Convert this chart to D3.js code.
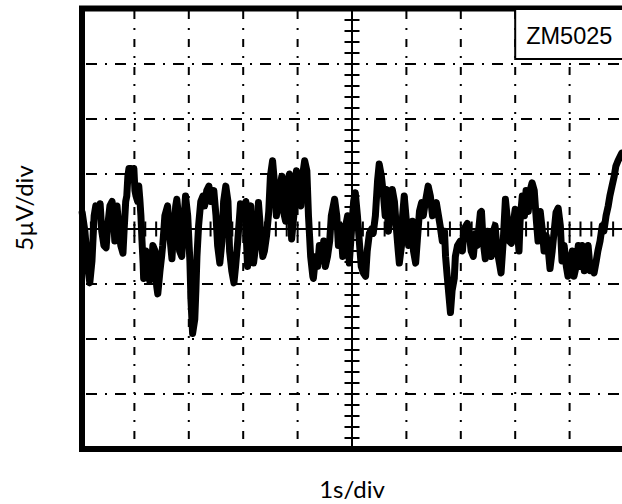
<!DOCTYPE html>
<html>
<head>
<meta charset="utf-8">
<style>
  body { margin: 0; background: #fff; }
  svg { display: block; }
</style>
</head>
<body>
<script src="https://cdn.jsdelivr.net/npm/d3@7"></script>
<script>

  const width = 622, height = 504
  const plot = {left: 80, right: 624, top: 9, bottom: 449}

  // scope graticule: 1 s/div horizontally, 5 uV/div vertically
  const xGrid = [0, 1, 2, 3, 4, 5, 6, 7, 8, 9, 10]
  const yGrid = [-20, -15, -10, -5, 0, 5, 10, 15, 20]

  const xLabel = '1s/div',
        yLabel = '5\u00b5V/div',
        tag = 'ZM5025'

  // noise trace, time (s) and amplitude (uV)
  const traceTime = [
    0.04, 0.09, 0.15, 0.18, 0.22, 0.26, 0.29, 0.33, 0.37, 0.40, 0.44, 0.48, 0.51, 0.55, 0.59, 0.62, 0.64, 0.68, 0.72, 0.75,
    0.79, 0.81, 0.84, 0.86, 0.88, 0.90, 0.94, 0.97, 0.99, 1.01, 1.03, 1.06, 1.08, 1.10, 1.12, 1.14, 1.16, 1.17, 1.21, 1.23,
    1.27, 1.28, 1.32, 1.34, 1.38, 1.39, 1.41, 1.43, 1.47, 1.50, 1.52, 1.54, 1.56, 1.61, 1.65, 1.69, 1.72, 1.76, 1.78, 1.82,
    1.83, 1.87, 1.91, 1.94, 1.98, 2.02, 2.04, 2.07, 2.11, 2.13, 2.15, 2.18, 2.22, 2.26, 2.29, 2.33, 2.37, 2.40,
    2.46, 2.50, 2.53, 2.57, 2.61, 2.64, 2.68, 2.72, 2.75, 2.79, 2.83, 2.86, 2.90, 2.94, 2.95, 2.99, 3.05, 3.06, 3.08, 3.10,
    3.12, 3.14, 3.17, 3.19, 3.23, 3.27, 3.28, 3.32, 3.36, 3.39, 3.43, 3.47, 3.50, 3.54, 3.58, 3.61, 3.65, 3.71, 3.74, 3.78,
    3.82, 3.85, 3.87, 3.89, 3.93, 3.96, 3.98, 4.02, 4.06, 4.09, 4.13, 4.17, 4.20, 4.24, 4.28, 4.29, 4.33, 4.37, 4.40, 4.44,
    4.48, 4.51, 4.55, 4.59, 4.62, 4.68, 4.72, 4.75, 4.79, 4.83, 4.86, 4.90,
    4.92, 4.95, 4.99, 5.03, 5.06, 5.10, 5.14, 5.17, 5.21, 5.25, 5.28, 5.32, 5.36, 5.39, 5.43, 5.47, 5.50, 5.54, 5.58, 5.61,
    5.63, 5.67, 5.71, 5.74, 5.78, 5.82, 5.85, 5.87, 5.91, 5.93, 5.96, 6.00, 6.04, 6.07, 6.11, 6.13, 6.17, 6.20, 6.24, 6.28,
    6.31, 6.35, 6.40, 6.44, 6.48, 6.51, 6.55, 6.59, 6.62, 6.66, 6.70, 6.72, 6.75, 6.79, 6.81, 6.84, 6.88, 6.90, 6.94, 6.99,
    7.03, 7.06, 7.12, 7.16, 7.19, 7.23, 7.27, 7.30, 7.36,
    7.38, 7.41, 7.45, 7.49, 7.52, 7.56, 7.60, 7.63, 7.67, 7.71, 7.74, 7.78, 7.82, 7.85, 7.89, 7.93, 7.96, 8.00, 8.04, 8.07,
    8.09, 8.13, 8.17, 8.20, 8.24, 8.28, 8.31, 8.35, 8.39, 8.42, 8.46, 8.50, 8.53, 8.57, 8.61, 8.64, 8.68, 8.72, 8.75, 8.79,
    8.83, 8.86, 8.90, 8.94, 8.97, 9.01, 9.05, 9.08, 9.12, 9.16, 9.19, 9.23, 9.27, 9.30, 9.34, 9.38, 9.41, 9.45, 9.49, 9.52,
    9.56, 9.60, 9.63, 9.67, 9.71, 9.74, 9.78, 9.82, 9.85, 9.89, 9.93, 9.96
  ]
  const traceValue = [
    1.5, -0.2, -3.8, -4.9, -2.9, 1.2, 2.1, 1.2, 2.3, -0.2, -1.5, -1.7, 0.3, 2.1, 2.5, 0.7, -1.1, 2.1, -0.2, -1.5,
    -2.2, -0.2, 2.5, 3.0, 4.8, 5.5, 5.5, 5.1, 5.5, 3.5, 3.0, 2.5, 3.9, 2.7, 1.2, -1.1, -3.1, -4.5, -2.0, -4.0,
    -3.1, -4.7, -2.9, -1.5, -2.0, -3.8, -5.2, -5.9, -3.8, -2.5, -1.5, -0.2, 1.2, 2.1, -0.6, -2.7, -0.2, 2.1, 2.7, 0.7,
    -2.0, -2.5, 0.7, 3.0, 1.2, -2.9, -6.5, -9.5, -8.2, -5.6, -2.5, 0.3, 2.5, 3.0, 2.1, 3.5, 3.9, 2.5,
    3.5, 1.2, -1.5, -3.1, -1.1, 2.5, 3.9, 2.5, -2.0, -3.8, -4.9, -3.4, -1.1, 1.6, 2.3, 1.2, 2.5, -1.1, -3.4, -1.1,
    1.6, 2.1, -1.1, -3.1, -1.5, 1.2, 2.4, -0.2, -2.5, -2.0, -0.6, 1.6, 4.8, 6.2, 3.9, 1.2, 3.0, 4.8, 1.6, 0.7,
    4.4, 5.0, 2.1, -0.9, 1.2, 4.4, 5.3, 3.9, 2.1, 4.8, 6.2, 5.3, 1.2, -2.5, -4.3, -4.5, -2.5, -3.4, -1.5, -2.9,
    -1.1, -3.4, -2.5, -1.1, 1.2, 2.7, 1.2, -1.5, 0.3, -2.5, -1.1, 0.7,
    1.2, -3.1, -0.2, 2.5, 3.3, 1.2, -1.5, -3.4, -4.0, -4.3, -2.0, -0.4, 0.0, -0.4, 1.2, 4.4, 5.9, 4.8, 3.0, 1.2,
    3.6, -0.2, 1.6, 3.6, 2.5, -0.2, -2.0, -3.1, -1.5, 1.2, 3.0, 0.7, -1.5, -0.6, 0.7, -2.0, -3.1, -1.1, 1.6, 2.4,
    1.2, 2.5, 3.9, 3.0, 1.2, 1.6, 2.4, 1.2, 0.3, -1.1, -0.2, -2.5, -4.3, -6.5, -7.6, -5.6, -4.5, -2.5, -1.5, -1.1,
    -2.0, 0.0, 0.5, -0.6, -2.0, -2.5, -0.4, -1.5, 1.5,
    1.6, -1.1, -2.7, -0.2, -1.5, -2.5, -0.2, 0.3, -2.0, -3.1, -4.0, -1.1, 2.7, 1.2, -1.1, -1.3, 0.3, 1.8, -0.2, -2.0,
    0.7, 3.0, 1.2, 3.5, 1.6, 3.6, 4.2, 3.5, 0.7, -1.1, 1.6, -0.2, -2.0, -0.6, -2.0, -3.6, -2.0, 0.0, 1.5, 1.9,
    0.3, -2.9, -1.5, -3.4, -4.3, -3.1, -2.0, -4.3, -3.4, -1.5, -3.4, -1.5, -3.8, -2.5, -1.5, -3.8, -3.4, -4.0, -2.9, -2.0,
    -1.1, 0.3, -0.2, 1.2, 2.1, 3.0, 3.9, 4.8, 5.7, 6.2, 6.6, 6.9
  ]

  const trace = traceTime.map((t, i) => ({t: t, v: traceValue[i]}))

  const xScale = d3.scaleLinear()
    .domain([0, 10])
    .range([plot.left, plot.right])
  const yScale = d3.scaleLinear()
    .domain([-20, 20])
    .range([plot.bottom, plot.top])

  const svg = d3.select('body').append('svg')
      .attr('width', width)
      .attr('height', height)

  // dash-dot graticule
  svg.append('g').selectAll('line')
    .data(xGrid.slice(1, -1).filter(d => d !== 5))
    .enter().append('line')
      .attr('x1', d => xScale(d)).attr('x2', d => xScale(d))
      .attr('y1', plot.top).attr('y2', plot.bottom)
      .style('stroke', '#000')
      .style('stroke-width', 2)
      .style('stroke-dasharray', '8,9,2,9')
      .style('stroke-dashoffset', -2)

  svg.append('g').selectAll('line')
    .data(yGrid.slice(1, -1).filter(d => d !== 0))
    .enter().append('line')
      .attr('x1', plot.left).attr('x2', plot.right)
      .attr('y1', d => yScale(d)).attr('y2', d => yScale(d))
      .style('stroke', '#000')
      .style('stroke-width', 2)
      .style('stroke-dasharray', '11,8,2,8')
      .style('stroke-dashoffset', -6)

  // centre cross with fine ticks
  const cx = xScale(5), cy = yScale(0)
  const ticks = svg.append('g').style('stroke', '#000')

  ticks.append('line')
      .attr('x1', cx).attr('x2', cx)
      .attr('y1', plot.top).attr('y2', plot.bottom)
      .style('stroke-width', 2)
  ticks.append('line')
      .attr('x1', plot.left).attr('x2', plot.right)
      .attr('y1', cy).attr('y2', cy)
      .style('stroke-width', 2)

  ticks.selectAll('.ty')
    .data(yScale.ticks(40))
    .enter().append('line')
      .attr('class', 'ty')
      .attr('x1', cx - 7.5).attr('x2', cx + 7.5)
      .attr('y1', d => yScale(d)).attr('y2', d => yScale(d))
      .style('stroke-width', 2)

  ticks.selectAll('.tx')
    .data(xScale.ticks(50))
    .enter().append('line')
      .attr('class', 'tx')
      .attr('x1', d => xScale(d)).attr('x2', d => xScale(d))
      .attr('y1', cy - 7.5).attr('y2', cy + 7.5)
      .style('stroke-width', 2)

  // trace
  const line = d3.line()
    .x(d => xScale(d.t))
    .y(d => yScale(d.v))

  svg.append('path')
      .datum(trace)
      .attr('d', line)
      .style('fill', 'none')
      .style('stroke', '#000')
      .style('stroke-width', 7)
      .style('stroke-linejoin', 'round')
      .style('stroke-linecap', 'round')

  // screen frame
  svg.append('rect')
      .attr('x', plot.left + 2)
      .attr('y', plot.top - 0.5)
      .attr('width', plot.right - plot.left - 0.5)
      .attr('height', plot.bottom - plot.top + 0.5)
      .style('fill', 'none')
      .style('stroke', '#000')
      .style('stroke-width', 6)

  // part number tag
  svg.append('rect')
      .attr('x', xScale(8))
      .attr('y', plot.top)
      .attr('width', 140)
      .attr('height', 50)
      .style('fill', '#fff')
      .style('stroke', '#000')
      .style('stroke-width', 2)
  svg.append('text')
      .attr('x', xScale(8) + 11)
      .attr('y', 44)
      .style('font-family', 'Liberation Sans, Arial, sans-serif')
      .style('font-size', '23.5px')
      .text(tag)

  svg.append('text')
      .attr('x', xScale(5))
      .attr('y', 498)
      .style('text-anchor', 'middle')
      .style('font-family', 'Lato, sans-serif')
      .style('font-size', '24px')
      .text(xLabel)

  svg.append('text')
      .attr('transform', `translate(33, 208) rotate(-90)`)
      .style('text-anchor', 'middle')
      .style('font-family', 'Lato, sans-serif')
      .style('font-size', '24px')
      .text(yLabel)

</script>
</body>
</html>
